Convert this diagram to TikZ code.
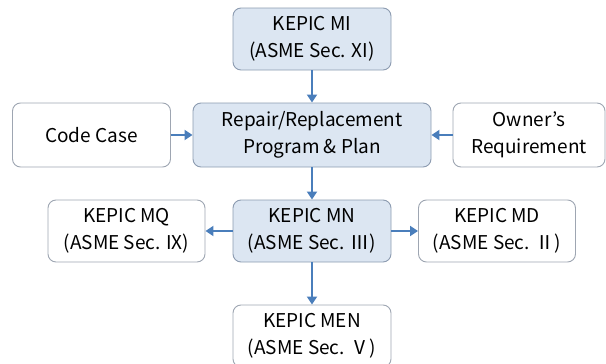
\documentclass[tikz,border=0pt]{standalone}
\usepackage{fontspec}
\setmainfont{Noto Sans CJK KR}
\usetikzlibrary{arrows.meta,positioning}
\definecolor{boxblue}{HTML}{DCE6F2}
\definecolor{boxline}{HTML}{8C9BB0}
\definecolor{sideline}{HTML}{9EA6B2}
\definecolor{arrowblue}{HTML}{4A7EBB}

\begin{document}
\begin{tikzpicture}[x=1pt,y=-1pt,
    mainbox/.style={draw=boxline, fill=boxblue, rounded corners=8pt, line width=0.9pt,
        minimum width=158pt, minimum height=62pt, inner sep=0pt, align=center,
        font=\fontsize{19}{27}\selectfont},
    sidebox/.style={mainbox, fill=white, draw=sideline},
    flow/.style={draw=arrowblue, line width=2.8pt, -{Triangle[length=8pt,width=10pt]}}]
    \clip (0,0) rectangle (606,364);
    \useasboundingbox (0,0) rectangle (606,364);

    \node[mainbox] (MI) at (312,39) {KEPIC MI\\(ASME Sec. XI)};

    \node[sidebox, minimum height=64pt] (codecase) at (91.5,135) {Code Case};
    \node[mainbox, minimum width=238pt, minimum height=64pt] (plan) at (312,135) {Repair/Replacement\\Program \& Plan};
    \node[sidebox, minimum width=152pt, minimum height=64pt] (owner) at (529,135) {Owner’s\\Requirement};

    \node[sidebox, minimum width=157pt] (MQ) at (126.5,231) {KEPIC MQ\\(ASME Sec. IX)};
    \node[mainbox] (MN) at (312,231) {KEPIC MN\\(ASME Sec. Ⅲ)};
    \node[sidebox, minimum width=157pt] (MD) at (497,231) {KEPIC MD\\(ASME Sec. Ⅱ)};

    \node[sidebox] (MEN) at (312,336) {KEPIC MEN\\(ASME Sec. Ⅴ)};

    \draw[flow] (MI) -- (plan);
    \draw[flow] (codecase) -- (plan);
    \draw[flow] (owner) -- (plan);
    \draw[flow] (plan) -- (MN);
    \draw[flow] (MN) -- (MQ);
    \draw[flow] (MN) -- (MD);
    \draw[flow] (MN) -- (MEN);
\end{tikzpicture}
\end{document}
